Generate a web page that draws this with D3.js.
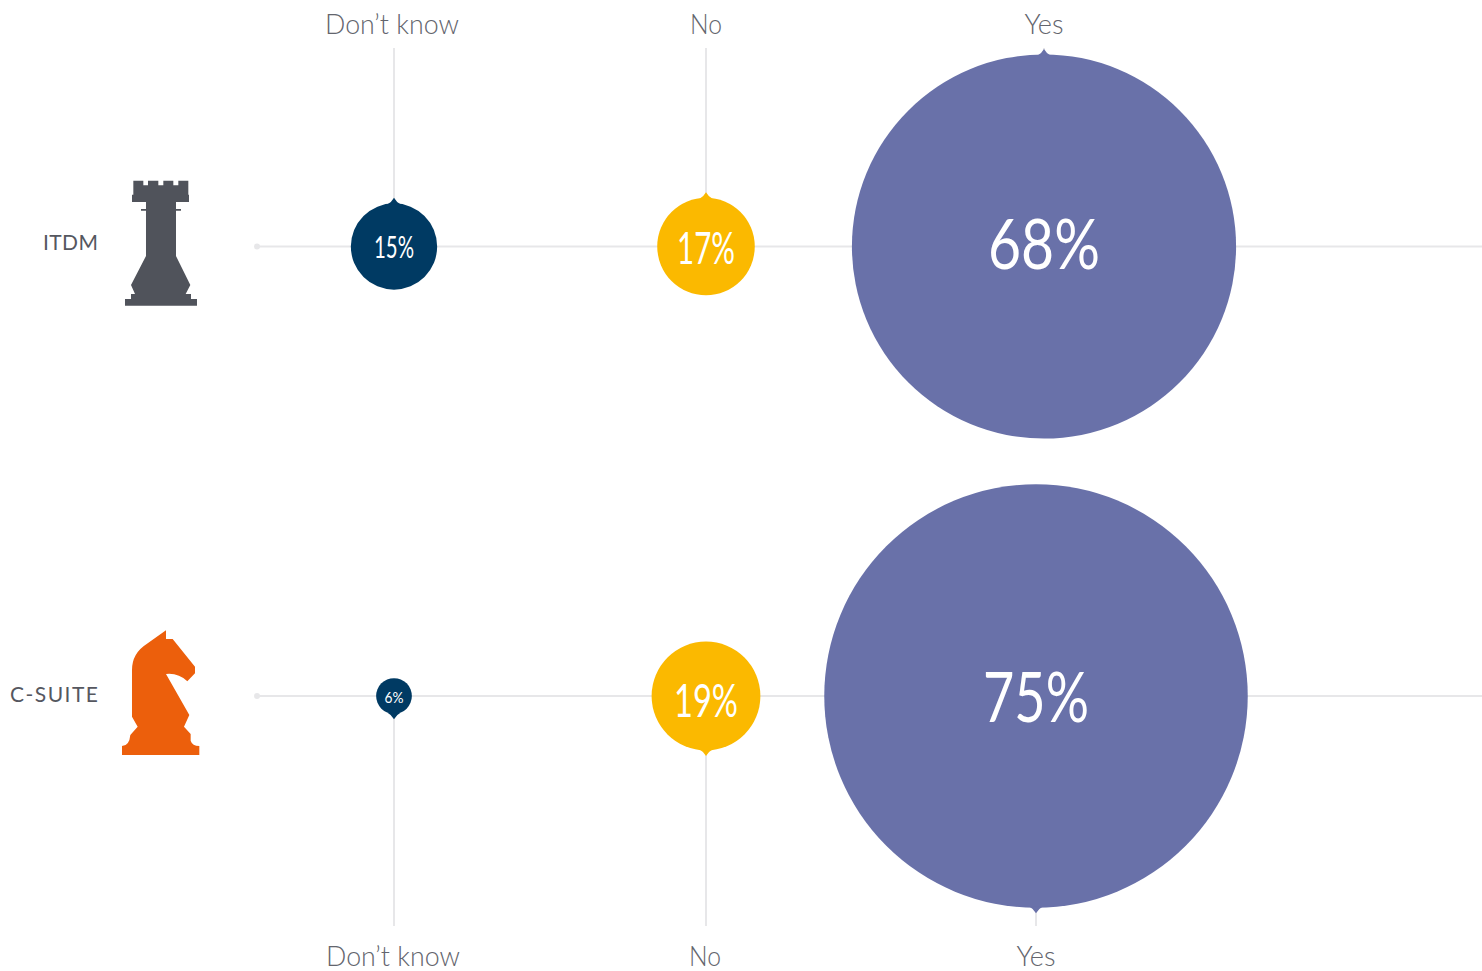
<!DOCTYPE html>
<html><head><meta charset="utf-8">
<script src="https://cdn.jsdelivr.net/npm/d3@7/dist/d3.min.js"></script>
<style>html,body{margin:0;padding:0;background:#fff}svg{display:block}text{font-family:Lato,"Open Sans",sans-serif}</style>
</head><body><svg id="c" width="1482" height="971"></svg>
<script>
const categories = ["Don’t know", "No", "Yes"];
const rows = ["ITDM", "C-SUITE"];
const itdmValues = [15, 17, 68];
const csuiteValues = [6, 19, 75];
const yesShift = [0, -8];
const colors = ["#003a63", "#fbb900", "#6971a9"];
const ink = "#55575f", rule = "#e7e7e9";

const svg = d3.select("#c");
const r = v => 1 + 2.81 * v;
const x = d3.scaleOrdinal(categories, [394, 706, 1044]);
const y = d3.scaleOrdinal(rows, [246.5, 696]);
const fs = d3.scaleOrdinal([6,15,17,19,68,75], [16,30,44,46,70,70]);
const tw = d3.scaleOrdinal([6,15,17,19,68,75], [19,40,58,64,112,106]);
const vo = d3.scaleOrdinal([6,15,17,19,68,75], [1,0.5,1.5,4,-3,1]);
const tagX = {"Don’t know":[392,393], "No":[706,705], "Yes":[1044,1036]};
const tagW = {"Don’t know":[134,134], "No":[32,32], "Yes":[39,39]};
const rowW = [55, 88], rowDy = [3.5, 5.5];

rows.forEach((row, ri) => {
  const vals = ri === 0 ? itdmValues : csuiteValues;
  const cy = y(row), up = ri === 0, dir = up ? -1 : 1;
  const cx = c => x(c) + (c === "Yes" ? yesShift[ri] : 0);
  svg.append("line").attr("x1",256).attr("x2",1482).attr("y1",cy).attr("y2",cy).attr("stroke",rule).attr("stroke-width",2);
  svg.append("circle").attr("cx",257).attr("cy",cy).attr("r",3).attr("fill",rule);
  categories.forEach(c => {
    svg.append("line").attr("x1",cx(c)).attr("x2",cx(c)).attr("y1",cy).attr("y2",up?48:926).attr("stroke",rule).attr("stroke-width",2);
    svg.append("text").attr("x",tagX[c][ri]).attr("y",up?34:966).attr("text-anchor","middle")
      .attr("font-size",27).attr("font-weight",300).attr("fill","#63656d")
      .attr("textLength",tagW[c][ri]).attr("lengthAdjust","spacingAndGlyphs").text(c);
  });
  categories.forEach((c,i) => {
    const v = vals[i], R = r(v), X = cx(c);
    const mg = svg.append("g").attr("transform",`translate(${X},${cy})`);
    mg.append("circle").attr("r",R).attr("fill",colors[i]);
    const a = 6.5, h = R + 5.5, s = R - 1;
    mg.append("path").attr("fill",colors[i])
      .attr("d",`M${-a},${dir*s} Q${-2.5},${dir*(R+1)} 0,${dir*h} Q${2.5},${dir*(R+1)} ${a},${dir*s} Z`);
    mg.append("text").attr("text-anchor","middle").attr("y",fs(v)*0.36+vo(v))
      .attr("font-size",fs(v)).attr("fill","#fff").attr("font-weight",400)
      .attr("textLength",tw(v)).attr("lengthAdjust","spacingAndGlyphs").text(v+"%");
  });
  svg.append("text").attr("x",98).attr("y",cy+rowDy[ri]).attr("text-anchor","end")
    .attr("font-size",21).attr("fill",ink).attr("font-weight",400)
    .attr("textLength",rowW[ri]).attr("lengthAdjust","spacing").text(row);
});

const rook = "M100 62H130V76H144V62H175V76H190V62H220V76H235V62H265V104H267V126H228V147H243V152H228V288L271 375L257 402H273V417H291V437H75V417H93V402H105L93 375L138 288V152H123V147H138V126H96V104H100Z";
const knight = "M198 31V57H218L285 140V160L262 184Q235 158 198 162L268 285L252 320L272 342V362Q277 378 298 378V405H66V378Q88 378 91 345L113 320L96 290V150Q96 100 140 72Z";
svg.append("path").attr("d",rook).attr("fill","#50535b").attr("transform","translate(100,160) scale(.3333)");
svg.append("path").attr("d",knight).attr("fill","#ec5f0c").attr("transform","translate(100,620) scale(.3333)");
</script></body></html>
